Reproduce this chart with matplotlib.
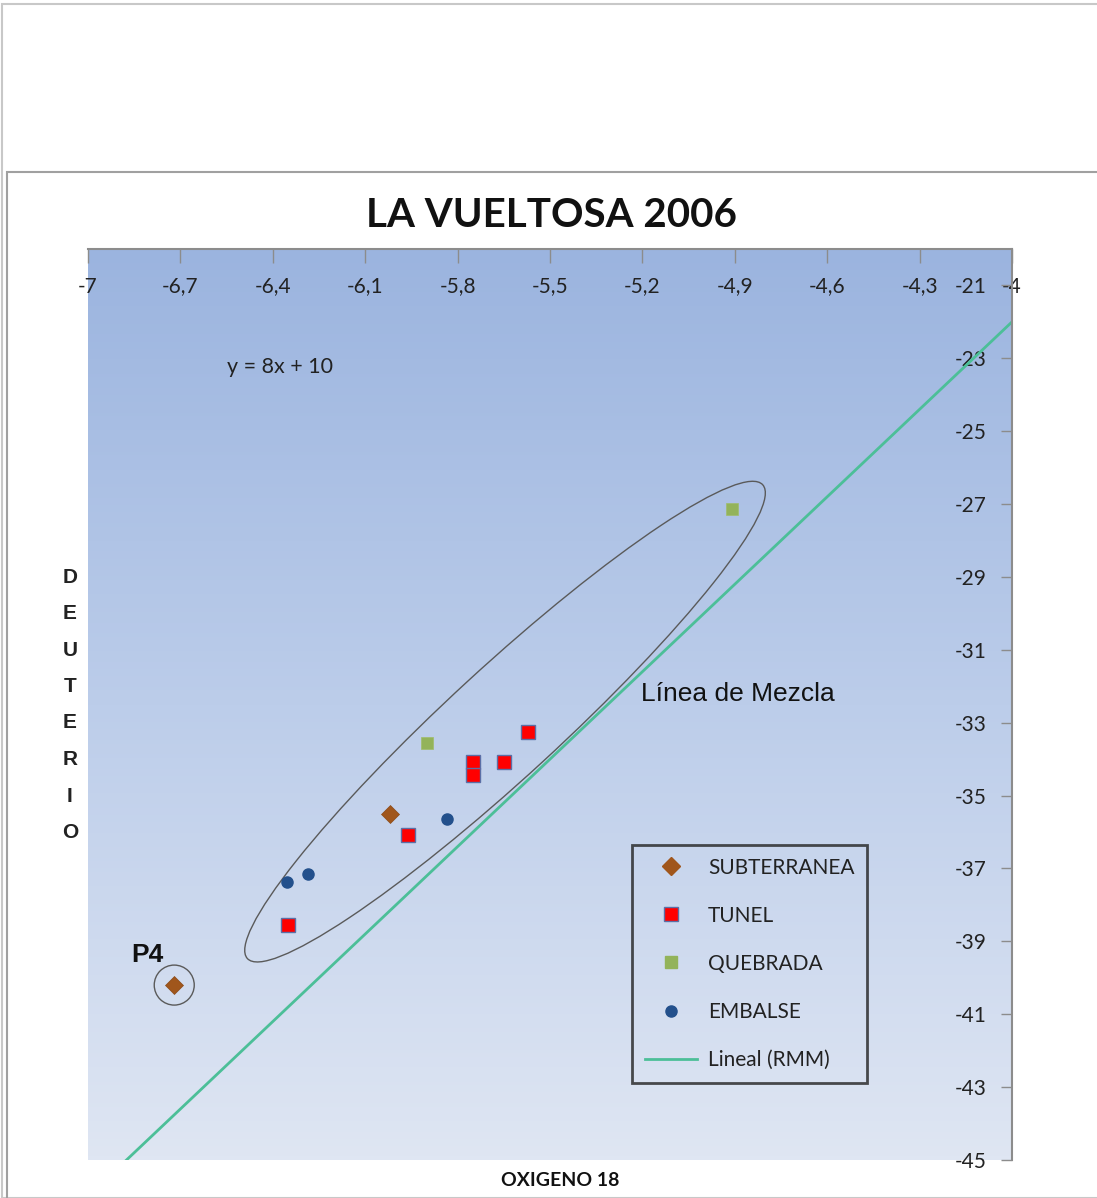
# La Vueltosa 2006 - deuterio vs oxigeno 18

import numpy as np
import matplotlib.pyplot as plt
from matplotlib.patches import Ellipse, Circle, Rectangle
from matplotlib.lines import Line2D
from matplotlib.colors import LinearSegmentedColormap
from matplotlib.transforms import IdentityTransform

# datos
subterranea_x = [-6.72, -6.02]
subterranea_y = [-40.2, -35.5]
tunel_x = [-6.35, -5.96, -5.75, -5.75, -5.65, -5.57]
tunel_y = [-38.55, -36.07, -34.07, -34.44, -34.07, -33.26]
quebrada_x = [-5.90, -4.91]
quebrada_y = [-33.55, -27.14]
embalse_x = [-6.355, -6.285, -5.835]
embalse_y = [-37.38, -37.14, -35.63]

rmm_slope = 8
rmm_intercept = 10

x_ticks = [-7, -6.7, -6.4, -6.1, -5.8, -5.5, -5.2, -4.9, -4.6, -4.3, -4]
x_tick_labels = ['-7', '-6,7', '-6,4', '-6,1', '-5,8', '-5,5', '-5,2', '-4,9', '-4,6', '-4,3', '-4']
y_ticks = [-45, -43, -41, -39, -37, -35, -33, -31, -29, -27, -25, -23, -21]

W, H = 1097, 1198
fig = plt.figure(figsize=(W / 100, H / 100), dpi=100)
fig.patch.set_facecolor('white')

# marcos grises de la captura
fig.add_artist(Rectangle((2 / W, 0), 1.2, (H - 4) / H, transform=fig.transFigure,
                         fill=False, edgecolor='#c8c8c8', lw=1.5))
fig.add_artist(Rectangle((7 / W, -0.01), 1.2, (H - 172) / H + 0.01, transform=fig.transFigure,
                         fill=False, edgecolor='#a0a0a0', lw=1.5))

ax = fig.add_axes([88 / W, 38 / H, 924 / W, 911 / H])

# fondo degradado
grad = np.linspace(0, 1, 256).reshape(-1, 1)
cmap = LinearSegmentedColormap.from_list('bg', ['#dfe6f3', '#bccdea', '#9bb4df'])
ax.imshow(grad, extent=[0, 1, 0, 1], transform=ax.transAxes, cmap=cmap,
          aspect='auto', origin='lower', zorder=0)

ax.set_xlim(-7, -4)
ax.set_ylim(-45, -20)

# recta meteorica mundial
xs = np.array([-7.0, -4.0])
ax.plot(xs, rmm_slope * xs + rmm_intercept, color='#4cbf98', lw=2, zorder=2)

ax.plot(subterranea_x, subterranea_y, 'D', color='#a0561c', markersize=9, mec='#8a4a18', mew=0.5, zorder=4)
ax.plot(tunel_x, tunel_y, 's', color='#ff0000', markersize=10, mec='#5b6fa6', mew=1, zorder=4)
ax.plot(quebrada_x, quebrada_y, 's', color='#93b35a', markersize=8.5, mec='#a0bc6a', mew=0.5, zorder=4)
ax.plot(embalse_x, embalse_y, 'o', color='#23508c', markersize=8, mec='#23508c', zorder=4)

# elipse de mezcla y circulo de P4 (en pixeles)
cx, cy = ax.transData.transform((-5.646, -32.97))
ax.add_patch(Ellipse((cx, cy), 700, 110, angle=42.6, transform=IdentityTransform(),
                     fill=False, edgecolor='#5a5a5a', lw=1, zorder=3))
px, py = ax.transData.transform((subterranea_x[0], subterranea_y[0]))
ax.add_patch(Circle((px, py), 20, transform=IdentityTransform(),
                    fill=False, edgecolor='#5a5a5a', lw=1, zorder=3))

# textos dentro del grafico
ax.text(-6.55, -23.24, 'y = 8x + 10', family='Lato', fontsize=15.5, color='#222222',
        ha='left', va='center')
ax.text(-5.205, -32.2, 'Línea de Mezcla', family='Liberation Sans', fontsize=19,
        color='#111111', ha='left', va='center')
ax.text(-6.86, -39.38, 'P4', family='Liberation Sans', fontsize=19, fontweight='bold',
        color='#111111', ha='left', va='center')

# ejes: x arriba, y a la derecha, etiquetas hacia dentro
ax.xaxis.tick_top()
ax.set_xticks(x_ticks, x_tick_labels)
ax.set_yticks(y_ticks, [str(v) for v in y_ticks])
ax.yaxis.tick_right()
ax.tick_params(axis='x', direction='in', length=10, width=1, color='#8c8c8c', pad=-27,
               labelsize=15, labelcolor='#222222')
ax.tick_params(axis='y', direction='in', length=8, width=1, color='#8c8c8c', pad=-18,
               labelsize=15, labelcolor='#222222')
for lab in ax.get_xticklabels():
    lab.set_family('Lato')
    lab.set_va('center')
for lab in ax.get_yticklabels():
    lab.set_family('Lato')
    lab.set_ha('right')
for s in ['left', 'bottom']:
    ax.spines[s].set_visible(False)
for s in ['top', 'right']:
    ax.spines[s].set_color('#8c8c8c')
    ax.spines[s].set_linewidth(1.5)

handles = [
    Line2D([], [], marker='D', ls='none', color='#a0561c', markersize=9),
    Line2D([], [], marker='s', ls='none', color='#ff0000', mec='#5b6fa6', markersize=10),
    Line2D([], [], marker='s', ls='none', color='#93b35a', markersize=8.5),
    Line2D([], [], marker='o', ls='none', color='#23508c', markersize=8),
    Line2D([], [], color='#4cbf98', lw=2),
]
labels = ['SUBTERRANEA', 'TUNEL', 'QUEBRADA', 'EMBALSE', 'Lineal (RMM)']
leg = fig.legend(handles, labels, loc='upper left', bbox_to_anchor=(632 / W, (H - 845) / H),
                 frameon=True, fancybox=False, borderaxespad=0, borderpad=0.6,
                 labelspacing=1.35, handlelength=2.5, handletextpad=0.55,
                 prop={'family': 'Lato', 'size': 15})
leg.get_frame().set_facecolor('none')
leg.get_frame().set_edgecolor('#222222')
leg.get_frame().set_linewidth(2)
for t in leg.get_texts():
    t.set_color('#222222')

# titulos
fig.text(552 / W, 1 - 216 / H, 'LA VUELTOSA 2006', family='Lato', fontweight='bold',
         fontsize=29, ha='center', va='center', color='#111111')
fig.text(560 / W, 1 - 1180 / H, 'OXIGENO 18', family='Lato', fontweight='bold',
         fontsize=14, ha='center', va='center', color='#111111')
for i, ch in enumerate('DEUTERIO'):
    fig.text(70 / W, 1 - (577 + i * 36.5) / H, ch, family='Liberation Sans',
             fontweight='bold', fontsize=15, ha='center', va='center', color='#222222')

fig.savefig('out.png', dpi=100)
